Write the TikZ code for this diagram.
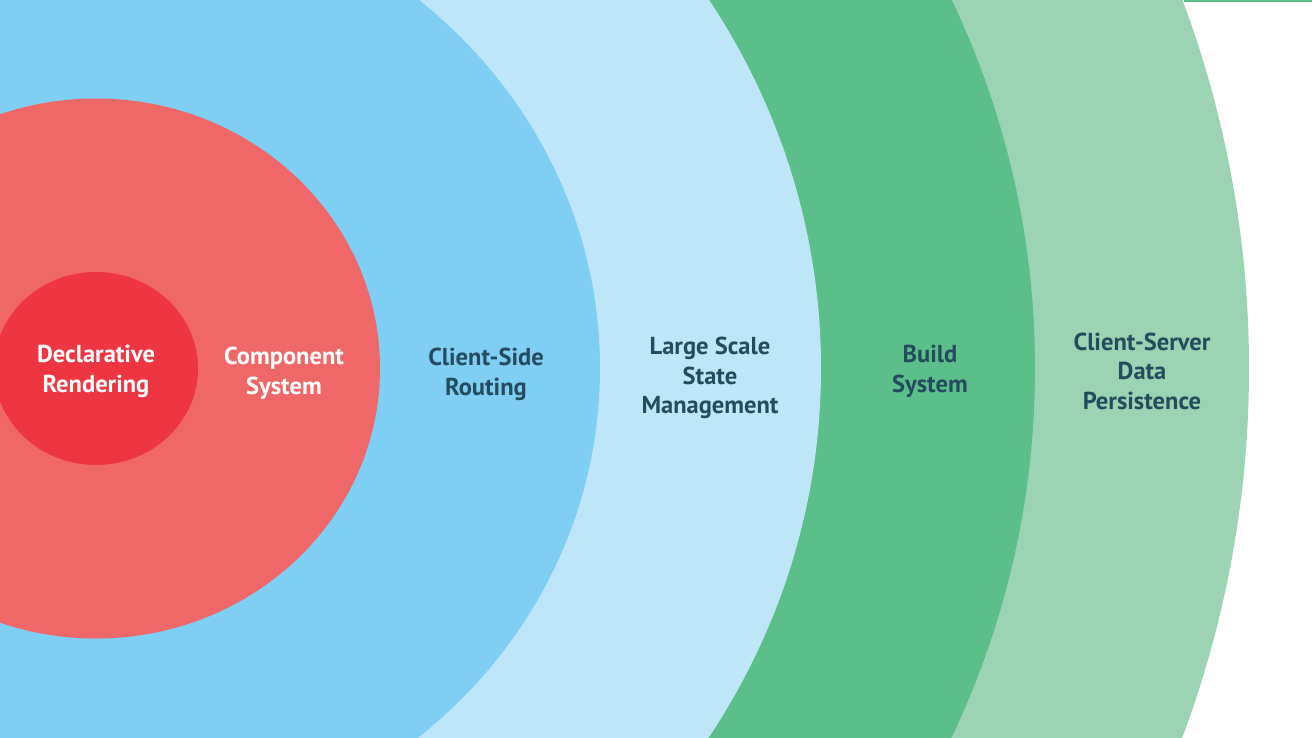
\documentclass[tikz,border=0pt]{standalone}
\usepackage{fontspec}
\setmainfont{PT Sans}
\definecolor{innerred}{HTML}{EE3542}
\definecolor{compred}{HTML}{F06768}
\definecolor{routeblue}{HTML}{7ECFF3}
\definecolor{stateblue}{HTML}{BEE6F8}
\definecolor{buildgreen}{HTML}{5BBF8A}
\definecolor{datagreen}{HTML}{9CD3B2}
\definecolor{labeldark}{HTML}{254B5E}
\tikzset{
  lbl/.style={font=\fontsize{24.5}{29.5}\selectfont\bfseries, align=center, text=labeldark, inner sep=0pt},
  lblw/.style={lbl, text=white}
}
\begin{document}
\begin{tikzpicture}[x=1pt,y=-1pt]
  \useasboundingbox (0,0) rectangle (1312,738);
  \fill[white] (0,0) rectangle (1312,738);
  \begin{scope}
    \clip (0,0) rectangle (1312,738);
    \coordinate (c) at (96,368.5);
    \fill[datagreen]  (c) ellipse [x radius=1153, y radius=1098];
    \fill[buildgreen] (c) ellipse [x radius=939, y radius=894];
    \fill[stateblue]  (c) ellipse [x radius=725, y radius=690];
    \fill[routeblue]  (c) ellipse [x radius=504, y radius=480];
    \fill[compred]    (c) ellipse [x radius=284, y radius=270];
    \fill[innerred]   (c) ellipse [x radius=102, y radius=96.5];
    \fill[buildgreen] (1184,0) rectangle (1312,2.5);
  \end{scope}
  \node[lblw] (decl)  at (96,371.5)  {Declarative\\Rendering};
  \node[lblw] (comp)  at (284,373.5) {Component\\System};
  \node[lbl]  (route) at (486,374.5) {Client-Side\\Routing};
  \node[lbl]  (state) at (710,378)   {Large Scale\\State\\Management};
  \node[lbl]  (build) at (930,371.5) {Build\\System};
  \node[lbl]  (data)  at (1142,371)  {Client-Server\\Data\\Persistence};
\end{tikzpicture}
\end{document}
